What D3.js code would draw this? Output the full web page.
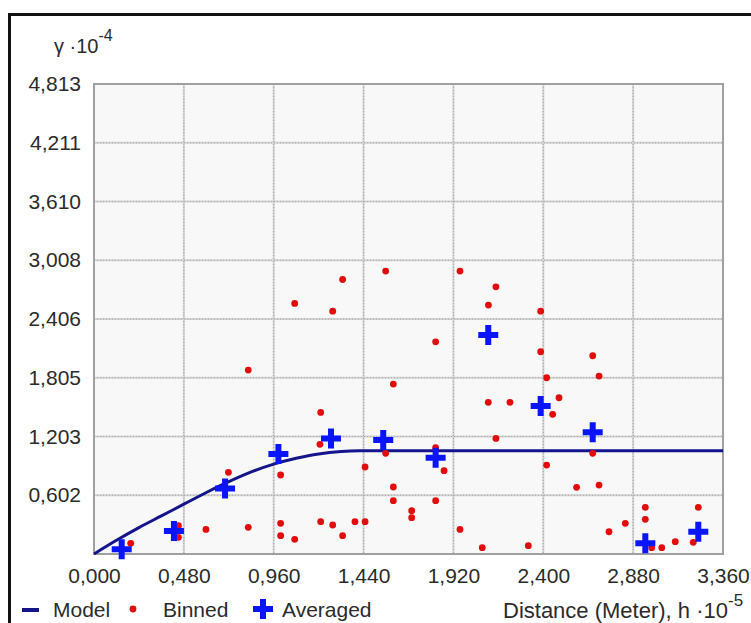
<!DOCTYPE html>
<html>
<head>
<meta charset="utf-8">
<script src="https://cdn.jsdelivr.net/npm/d3@7"></script>
<style>
  html, body { margin: 0; padding: 0; background: #fff; }
  svg text { font-family: "Liberation Sans", Arial, sans-serif; fill: #2b2b2b; }
</style>
</head>
<body>
<svg id="chart" width="751" height="623"></svg>
<script>
// values (gamma in units of 10^-4, distance in units of 10^-5)
const xTicks = [0, 0.48, 0.96, 1.44, 1.92, 2.4, 2.88, 3.36];
const yTicks = [0.602, 1.203, 1.805, 2.406, 3.008, 3.61, 4.211, 4.813];

const modelX = [0, 0.12, 0.24, 0.36, 0.48, 0.6, 0.72, 0.84, 0.96, 1.08, 1.2, 1.32, 1.42, 3.36];
const modelY = [0, 0.14, 0.27, 0.39, 0.51, 0.63, 0.74, 0.84, 0.92, 0.98, 1.025, 1.05, 1.057, 1.057];

const binnedX = [1.072, 1.275, 0.824, 1.211, 1.207, 0.718, 0.997, 0.196, 0.451, 0.451,
  0.598, 0.824, 0.997, 0.997, 1.072, 1.211, 1.328, 1.558, 1.955, 2.147,
  2.107, 1.825, 1.599, 2.106, 2.222, 2.147, 1.558, 1.825, 1.870, 1.448,
  1.599, 1.599, 1.825, 1.697, 1.697, 1.275, 1.328, 1.394, 1.448, 1.955,
  2.074, 2.320, 2.386, 2.386, 2.418, 2.484, 2.450, 2.418, 2.664, 2.698,
  2.664, 2.698, 2.578, 2.751, 2.838, 2.945, 2.945, 2.979, 3.033, 3.105,
  3.201, 3.228];
const binnedY = [2.566, 2.487, 1.883, 1.450, 1.123, 0.836, 0.809, 0.109, 0.290, 0.171,
  0.252, 0.273, 0.314, 0.188, 0.150, 0.331, 2.811, 2.897, 2.897, 2.736,
  2.549, 2.173, 1.740, 1.553, 1.553, 1.184, 1.031, 1.088, 0.853, 0.891,
  0.686, 0.546, 0.546, 0.443, 0.372, 0.297, 0.188, 0.331, 0.331, 0.252,
  0.065, 0.085, 2.487, 2.071, 1.805, 1.600, 1.430, 0.911, 2.030, 1.822,
  1.031, 0.706, 0.683, 0.228, 0.314, 0.478, 0.355, 0.065, 0.065, 0.126,
  0.120, 0.478];

const averagedX = [0.148, 0.427, 0.700, 0.985, 1.266, 1.545, 1.825, 2.106, 2.386, 2.664, 2.945, 3.228];
const averagedY = [0.048, 0.235, 0.672, 1.024, 1.184, 1.167, 0.986, 2.242, 1.515, 1.246, 0.110, 0.228];

const svg = d3.select("#chart");
const plotLeft = 94, plotRight = 723, plotTop = 84, plotBottom = 554;

const x = d3.scaleLinear().domain([0, 3.36]).range([plotLeft, plotRight]);
const y = d3.scaleLinear().domain([0, 4.813]).range([plotBottom, plotTop]);
const fmt = (v) => d3.format(".3f")(v).replace(".", ",");

const modelColor = "#14148c", dotColor = "#e30b0b", crossColor = "#0a14ff";

// outer window border
svg.append("path")
  .attr("d", `M9.5,623 V14.5 H751`)
  .attr("fill", "none")
  .attr("stroke", "#111")
  .attr("stroke-width", 3);

// plot background
svg.append("rect")
  .attr("x", plotLeft).attr("y", plotTop)
  .attr("width", plotRight - plotLeft).attr("height", plotBottom - plotTop)
  .attr("fill", "#f8f8f8");

// grid
const grid = svg.append("g");
grid.selectAll(".vgrid")
  .data(xTicks.slice(1, -1))
  .enter().append("line")
  .attr("x1", (d) => x(d)).attr("x2", (d) => x(d))
  .attr("y1", plotTop).attr("y2", plotBottom)
  .style("stroke", "#d2d2d2").style("stroke-width", 2);
grid.selectAll(".hgrid")
  .data(yTicks.slice(0, -1))
  .enter().append("line")
  .attr("x1", plotLeft).attr("x2", plotRight)
  .attr("y1", (d) => y(d)).attr("y2", (d) => y(d))
  .style("stroke", "#d2d2d2").style("stroke-width", 2);
grid.selectAll(".vdot")
  .data(xTicks.slice(1, -1))
  .enter().append("line")
  .attr("x1", (d) => x(d)).attr("x2", (d) => x(d))
  .attr("y1", plotTop).attr("y2", plotBottom)
  .style("stroke", "#a8a8a8").style("stroke-width", 1)
  .style("stroke-dasharray", "1,2");
grid.selectAll(".hdot")
  .data(yTicks.slice(0, -1))
  .enter().append("line")
  .attr("x1", plotLeft).attr("x2", plotRight)
  .attr("y1", (d) => y(d)).attr("y2", (d) => y(d))
  .style("stroke", "#a8a8a8").style("stroke-width", 1)
  .style("stroke-dasharray", "1,2");

// frame
svg.append("rect")
  .attr("x", plotLeft).attr("y", plotTop)
  .attr("width", plotRight - plotLeft).attr("height", plotBottom - plotTop)
  .attr("fill", "none")
  .attr("stroke", "#a0a0a0")
  .attr("stroke-width", 2);

// axes (labels only)
const xAxis = svg.append("g")
  .attr("transform", `translate(0,${plotBottom})`)
  .call(d3.axisBottom(x).tickValues(xTicks).tickFormat(fmt).tickSize(0).tickPadding(14));
const yAxis = svg.append("g")
  .attr("transform", `translate(${plotLeft},0)`)
  .call(d3.axisLeft(y).tickValues(yTicks).tickFormat(fmt).tickSize(0).tickPadding(13));
[xAxis, yAxis].forEach((g) => {
  g.select(".domain").remove();
  g.selectAll("text")
    .style("font-size", "21px")
    .style("fill", "#2b2b2b")
    .style("font-family", '"Liberation Sans", Arial, sans-serif');
});

// y label
const yLab = svg.append("text").attr("x", 54).attr("y", 53).style("font-size", "20px");
yLab.append("tspan").text("γ ·10");
yLab.append("tspan").attr("dy", -12).style("font-size", "16px").text("-4");

// model curve
const modelLine = d3.line()
  .x((d, i) => x(modelX[i]))
  .y((d, i) => y(modelY[i]))
  .curve(d3.curveMonotoneX);
svg.append("path")
  .datum(modelX)
  .attr("d", modelLine)
  .attr("fill", "none")
  .attr("stroke", modelColor)
  .attr("stroke-width", 3);

// binned points
svg.selectAll(".binned")
  .data(binnedX)
  .enter().append("circle")
  .attr("cx", (d) => x(d))
  .attr("cy", (d, i) => y(binnedY[i]))
  .attr("r", 3.4)
  .attr("fill", dotColor);

// averaged crosses
const crossPath = (cx, cy, s) => `M${cx - s},${cy} H${cx + s} M${cx},${cy - s} V${cy + s}`;
svg.selectAll(".averaged")
  .data(averagedX)
  .enter().append("path")
  .attr("d", (d, i) => crossPath(x(d), y(averagedY[i]), 10))
  .attr("stroke", crossColor)
  .attr("stroke-width", 6);

// legend
const legY = 609;
svg.append("line")
  .attr("x1", 22).attr("x2", 39).attr("y1", legY + 1).attr("y2", legY + 1)
  .attr("stroke", modelColor).attr("stroke-width", 4);
svg.append("text").attr("x", 53).attr("y", 617).style("font-size", "21px").text("Model");
svg.append("circle").attr("cx", 133).attr("cy", legY).attr("r", 3.4).attr("fill", dotColor);
svg.append("text").attr("x", 163).attr("y", 617).style("font-size", "21px").text("Binned");
svg.append("path").attr("d", crossPath(263, legY, 10))
  .attr("stroke", crossColor).attr("stroke-width", 6);
svg.append("text").attr("x", 282).attr("y", 617).style("font-size", "21px").text("Averaged");

// x title
const xLab = svg.append("text").attr("x", 503).attr("y", 618).style("font-size", "22px");
xLab.append("tspan").text("Distance (Meter), h ·10");
xLab.append("tspan").attr("dy", -12).style("font-size", "17px").text("-5");
</script>
</body>
</html>
